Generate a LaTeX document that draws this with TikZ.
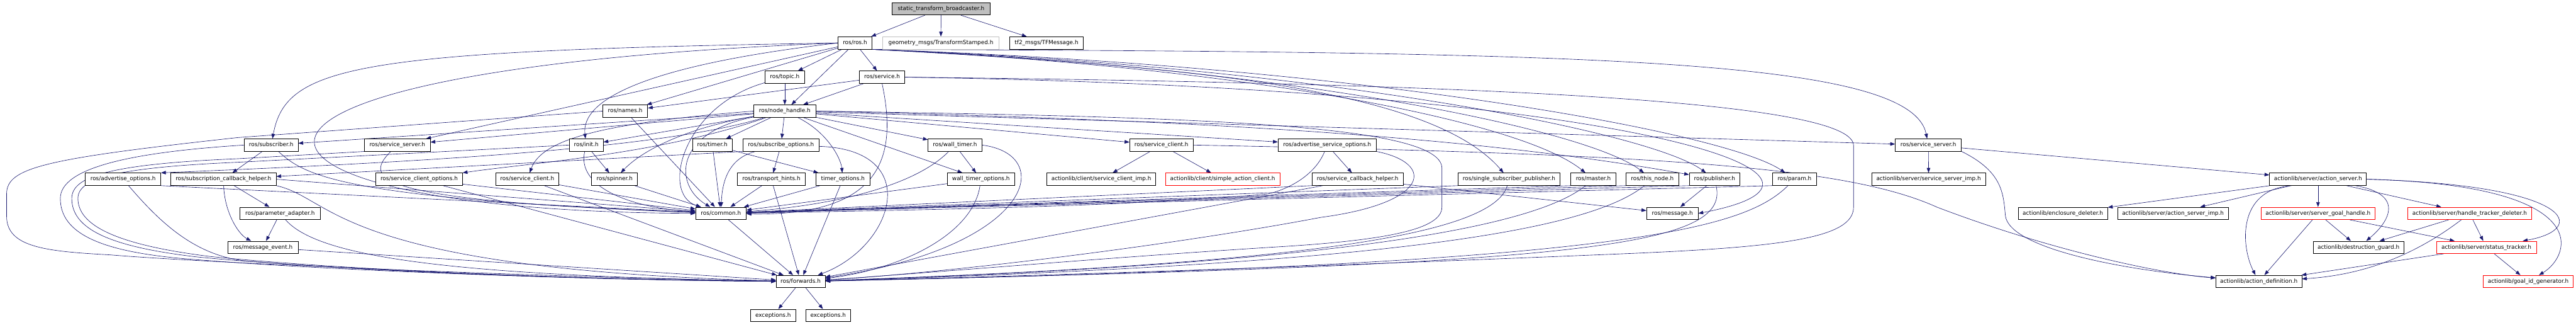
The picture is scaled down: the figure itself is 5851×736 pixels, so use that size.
\documentclass[tikz,border=0pt]{standalone}
\usepackage{fontspec}
\setmainfont{DejaVu Sans}
\usetikzlibrary{arrows.meta}
\definecolor{edgecol}{HTML}{191970}
\definecolor{greyfill}{HTML}{BFBFBF}
\pgfdeclarelayer{background}
\pgfsetlayers{background,main}
\begin{document}
\begin{tikzpicture}[x=1pt,y=-1pt,
  box/.style={draw=black,line width=1.1pt,fill=white,minimum height=28pt,inner sep=0pt,
    font=\fontsize{12.7}{15}\selectfont,text height=9.3pt,text depth=2.7pt},
  redbox/.style={box,draw=red},
  greybox/.style={box,draw=greyfill},
  rootbox/.style={box,fill=greyfill},
  edge/.style={draw=edgecol,line width=0.9pt,-{Triangle[length=11pt,width=8pt]}}]
\useasboundingbox (0,0) rectangle (5851,736);
% row 0
\node[rootbox,minimum width=223pt] (stb) at (2137.5,20) {static\_transform\_broadcaster.h};
% row 1
\node[box,minimum width=78pt] (ros) at (1942,97.5) {ros/ros.h};
\node[greybox,minimum width=264pt] (geo) at (2137,97.5) {geometry\_msgs/TransformStamped.h};
\node[box,minimum width=168pt] (tf2) at (2377,97.5) {tf2\_msgs/TFMessage.h};
% row 2
\node[box,minimum width=89pt] (topic) at (1782.5,175) {ros/topic.h};
\node[box,minimum width=103pt] (service) at (2003.5,175) {ros/service.h};
% row 3
\node[box,minimum width=102pt] (names) at (1420,252) {ros/names.h};
\node[box,minimum width=141pt] (nh) at (1782.5,252) {ros/node\_handle.h};
% row 4
\node[box,minimum width=122pt] (subscriber) at (616,329) {ros/subscriber.h};
\node[box,minimum width=149pt] (sserver1) at (902.5,329) {ros/service\_server.h};
\node[box,minimum width=77pt] (init) at (1331.5,329) {ros/init.h};
\node[box,minimum width=90pt] (timer) at (1618,329) {ros/timer.h};
\node[box,minimum width=174pt] (subopts) at (1774,329) {ros/subscribe\_options.h};
\node[box,minimum width=122pt] (walltimer) at (2169,329) {ros/wall\_timer.h};
\node[box,minimum width=144pt] (sclient2) at (2638,329) {ros/service\_client.h};
\node[box,minimum width=223pt] (advsrvopts) at (3014.5,329) {ros/advertise\_service\_options.h};
\node[box,minimum width=150pt] (sserver2) at (4380,329) {ros/service\_server.h};
% row 5
\node[box,minimum width=171pt] (advopts) at (279.5,406.5) {ros/advertise\_options.h};
\node[box,minimum width=239pt] (subcbhelper) at (507.5,406.5) {ros/subscription\_callback\_helper.h};
\node[box,minimum width=198pt] (sclientopts) at (952,406.5) {ros/service\_client\_options.h};
\node[box,minimum width=143pt] (sclient1) at (1197.5,406.5) {ros/service\_client.h};
\node[box,minimum width=104pt] (spinner) at (1396,406.5) {ros/spinner.h};
\node[box,minimum width=154pt] (transport) at (1752,406.5) {ros/transport\_hints.h};
\node[box,minimum width=123pt] (timeropts) at (1914.5,406.5) {timer\_options.h};
\node[box,minimum width=152pt] (walltimeropts) at (2228,406.5) {wall\_timer\_options.h};
\node[box,minimum width=247pt] (scimp) at (2501.5,406.5) {actionlib/client/service\_client\_imp.h};
\node[redbox,minimum width=260pt] (sac) at (2777,406.5) {actionlib/client/simple\_action\_client.h};
\node[box,minimum width=207pt] (srvcbhelper) at (3083.5,406.5) {ros/service\_callback\_helper.h};
\node[box,minimum width=231pt] (ssp) at (3427.5,406.5) {ros/single\_subscriber\_publisher.h};
\node[box,minimum width=102pt] (master) at (3619,406.5) {ros/master.h};
\node[box,minimum width=120pt] (thisnode) at (3753,406.5) {ros/this\_node.h};
\node[box,minimum width=115pt] (publisher) at (3894.5,406.5) {ros/publisher.h};
\node[box,minimum width=100pt] (param) at (4076,406.5) {ros/param.h};
\node[box,minimum width=259pt] (ssimp) at (4380.5,406.5) {actionlib/server/service\_server\_imp.h};
\node[box,minimum width=220pt] (asrv) at (5265,406.5) {actionlib/server/action\_server.h};
% row 6
\node[box,minimum width=182pt] (paramadapter) at (636,484) {ros/parameter\_adapter.h};
\node[box,minimum width=115pt] (common) at (1637.5,484) {ros/common.h};
\node[box,minimum width=117pt] (message) at (3798.5,484) {ros/message.h};
\node[box,minimum width=203pt] (encdel) at (4685.5,484) {actionlib/enclosure\_deleter.h};
\node[box,minimum width=251pt] (asimp) at (4935.5,484) {actionlib/server/action\_server\_imp.h};
\node[redbox,minimum width=258pt] (sgh) at (5265,484) {actionlib/server/server\_goal\_handle.h};
\node[redbox,minimum width=281pt] (htd) at (5609.5,484) {actionlib/server/handle\_tracker\_deleter.h};
% row 7
\node[box,minimum width=160pt] (msgevent) at (597,561) {ros/message\_event.h};
\node[box,minimum width=206pt] (dguard) at (5357,561) {actionlib/destruction\_guard.h};
\node[redbox,minimum width=227pt] (stracker) at (5647.5,561) {actionlib/server/status\_tracker.h};
% row 8
\node[box,minimum width=111pt] (forwards) at (1818.5,638.5) {ros/forwards.h};
\node[box,minimum width=195pt] (actdef) at (5130.5,638.5) {actionlib/action\_definition.h};
\node[redbox,minimum width=205pt] (goalid) at (5742.5,638.5) {actionlib/goal\_id\_generator.h};
% row 9
\node[box,minimum width=102pt] (exc1) at (1756,715.5) {exceptions.h};
\node[box,minimum width=102pt] (exc2) at (1881,715.5) {exceptions.h};

\begin{pgfonlayer}{background}
\foreach \a/\b in {stb/ros,stb/geo,stb/tf2,ros/service,ros/topic,ros/nh,ros/names,ros/sserver1,
  topic/nh,service/names,service/nh,nh/init,nh/timer,nh/subopts,nh/subscriber,nh/sserver1,
  nh/walltimer,nh/walltimeropts,nh/sclient2,nh/advsrvopts,nh/sserver2,
  subscriber/subcbhelper,subcbhelper/paramadapter,paramadapter/msgevent,msgevent/forwards,
  sclientopts/common,sclientopts/forwards,sclient1/common,sclient1/forwards,names/common,
  init/spinner,spinner/common,timer/timeropts,timer/common,subopts/transport,transport/common,
  transport/forwards,timeropts/common,timeropts/forwards,walltimer/walltimeropts,walltimeropts/common,
  advsrvopts/srvcbhelper,srvcbhelper/forwards,srvcbhelper/message,publisher/message,common/forwards,
  forwards/exc1,forwards/exc2,sclient2/scimp,sclient2/sac,sserver2/ssimp,sserver2/asrv,
  asrv/encdel,asrv/asimp,asrv/sgh,asrv/htd,sgh/actdef,sgh/dguard,sgh/stracker,htd/dguard,
  htd/stracker,stracker/actdef,stracker/goalid}
  \draw[edge] (\a) -- (\b);
% straight edges from corners
\draw[edge] (subopts.south west) -- (subcbhelper);
\draw[edge] (advopts.south east) -- (common);
\draw[edge] (subcbhelper.east) -- (common);
\draw[edge] (srvcbhelper.south west) -- (common);
\draw[edge] (ssp.south west) -- (common);
\draw[edge] (master.south west) -- (common);
\draw[edge] (thisnode.south west) -- (common);
\draw[edge] (publisher.south west) -- (common);
\draw[edge] (param.south west) -- (common);
% ros.h curves
\draw[edge] (ros.west) .. controls (1450,150) and (1320,230) .. (init);
\draw[edge] (ros.west) .. controls (800,115) and (650,150) .. (subscriber);
\draw[edge] (ros.west) .. controls (300,160) and (450,480) .. (common);
\draw[edge] (ros.south east) .. controls (3600,118) and (4340,130) .. (sserver2);
\draw[edge] (ros.south east) .. controls (2700,150) and (3250,200) .. (ssp);
\draw[edge] (ros.south east) .. controls (2800,150) and (3450,270) .. (master);
\draw[edge] (ros.south east) .. controls (2900,150) and (3600,290) .. (thisnode);
\draw[edge] (ros.south east) .. controls (3000,150) and (3750,300) .. (publisher);
\draw[edge] (ros.south east) .. controls (3100,150) and (3920,300) .. (param);
% service.h curves
\draw[edge] (service.east) .. controls (3700,200) and (4300,400) .. (message.east);
\draw[edge] (service.east) .. controls (3400,190) and (4210,230) .. (4210,330) -- (4210,470)
  .. controls (4210,540) and (4050,560) .. (3700,575) .. controls (3100,600) and (2400,625) .. (forwards);
\draw[edge] (service.south) .. controls (2040,360) and (2000,490) .. (common);
% node_handle.h curves
\draw[edge] (nh.east) .. controls (2600,270) and (3300,300) .. (publisher);
\draw[edge] (nh) .. controls (1500,340) and (900,370) .. (advopts.north east);
\draw[edge] (nh) .. controls (1500,350) and (1200,370) .. (sclientopts);
\draw[edge] (nh.west) .. controls (1350,280) and (1230,320) .. (sclient1);
\draw[edge] (nh) .. controls (1560,290) and (1460,340) .. (spinner);
\draw[edge] (nh) .. controls (1880,300) and (1910,360) .. (timeropts);
\draw[edge] (nh) .. controls (1530,300) and (1530,420) .. (common);
\draw[edge] (nh.east) .. controls (2700,265) and (3270,280) .. (3275,380) -- (3275,470)
  .. controls (3275,520) and (3150,545) .. (2900,560) .. controls (2500,585) and (2100,620) .. (forwards);
% left group curves
\draw[edge] (subopts) .. controls (1650,360) and (1640,420) .. (common);
\draw[edge] (subopts) .. controls (2100,340) and (2030,560) .. (forwards);
\draw[edge] (topic) .. controls (1550,240) and (1500,440) .. (common);
\draw[edge] (sserver1) .. controls (820,410) and (860,455) .. (common);
\draw[edge] (subscriber) .. controls (690,395) and (760,450) .. (common);
\draw[edge] (init) .. controls (1310,420) and (1420,470) .. (common);
\draw[edge] (subcbhelper) .. controls (510,480) and (540,530) .. (msgevent);
\draw[edge] (subcbhelper.south east) .. controls (760,450) and (760,610) .. (forwards);
\draw[edge] (paramadapter) .. controls (720,580) and (1000,625) .. (forwards);
\draw[edge] (advopts) .. controls (360,500) and (440,580) .. (560,592) .. controls (900,620) and (1400,636) .. (forwards);
% left loops
\draw[edge] (names.west) -- (540,312) .. controls (100,360) and (15,380) .. (15,440) -- (15,490)
  .. controls (15,560) and (100,570) .. (250,578) .. controls (450,595) and (1200,628) .. (forwards);
\draw[edge] (subscriber.west) .. controls (300,345) and (137,380) .. (137,450)
  .. controls (137,530) and (230,568) .. (400,585) .. controls (700,612) and (1300,634) .. (forwards);
\draw[edge] (sserver1.south west) -- (540,360) .. controls (250,372) and (163,400) .. (163,450)
  .. controls (163,520) and (250,560) .. (450,583) .. controls (750,612) and (1300,634) .. (forwards);
\draw[edge] (init.west) -- (540,368) .. controls (260,380) and (177,405) .. (177,450)
  .. controls (177,510) and (260,555) .. (480,582) .. controls (780,612) and (1300,634) .. (forwards);
% middle group curves
\draw[edge] (walltimer) .. controls (2080,420) and (1900,465) .. (common);
\draw[edge] (walltimer.east) .. controls (2400,350) and (2350,560) .. (forwards);
\draw[edge] (walltimeropts) .. controls (2210,530) and (2050,610) .. (forwards);
\draw[edge] (advsrvopts) .. controls (2990,390) and (2940,425) .. (2880,440) .. controls (2600,465) and (2200,475) .. (common);
\draw[edge] (advsrvopts.south east) .. controls (3260,370) and (3250,460) .. (3000,493)
  .. controls (2700,550) and (2200,615) .. (forwards);
\draw[edge] (ssp) .. controls (3390,540) and (2900,600) .. (forwards);
\draw[edge] (master) .. controls (3480,520) and (3000,600) .. (forwards);
\draw[edge] (thisnode) .. controls (3600,530) and (3100,600) .. (forwards);
\draw[edge] (publisher) .. controls (3930,560) and (3600,600) .. (forwards);
\draw[edge] (param) .. controls (3960,520) and (3700,600) .. (forwards);
% actionlib curves
\draw[edge] (sclient2.east) .. controls (3800,350) and (4200,380) .. (4400,470)
  .. controls (4650,565) and (4900,620) .. (actdef);
\draw[edge] (sserver2.south east) .. controls (4550,390) and (4550,440) .. (4555,490)
  .. controls (4565,560) and (4800,610) .. (actdef);
\draw[edge] (asrv) .. controls (5460,440) and (5430,500) .. (dguard);
\draw[edge] ([xshift=-60pt]asrv.south) .. controls (5080,430) and (5090,560) .. (actdef);
\draw[edge] (asrv.east) .. controls (5850,420) and (5880,520) .. (stracker);
\draw[edge] (asrv.east) .. controls (5900,420) and (5840,580) .. (goalid);
\draw[edge] (htd) .. controls (5470,590) and (5350,625) .. (actdef);
\end{pgfonlayer}
\end{tikzpicture}
\end{document}
